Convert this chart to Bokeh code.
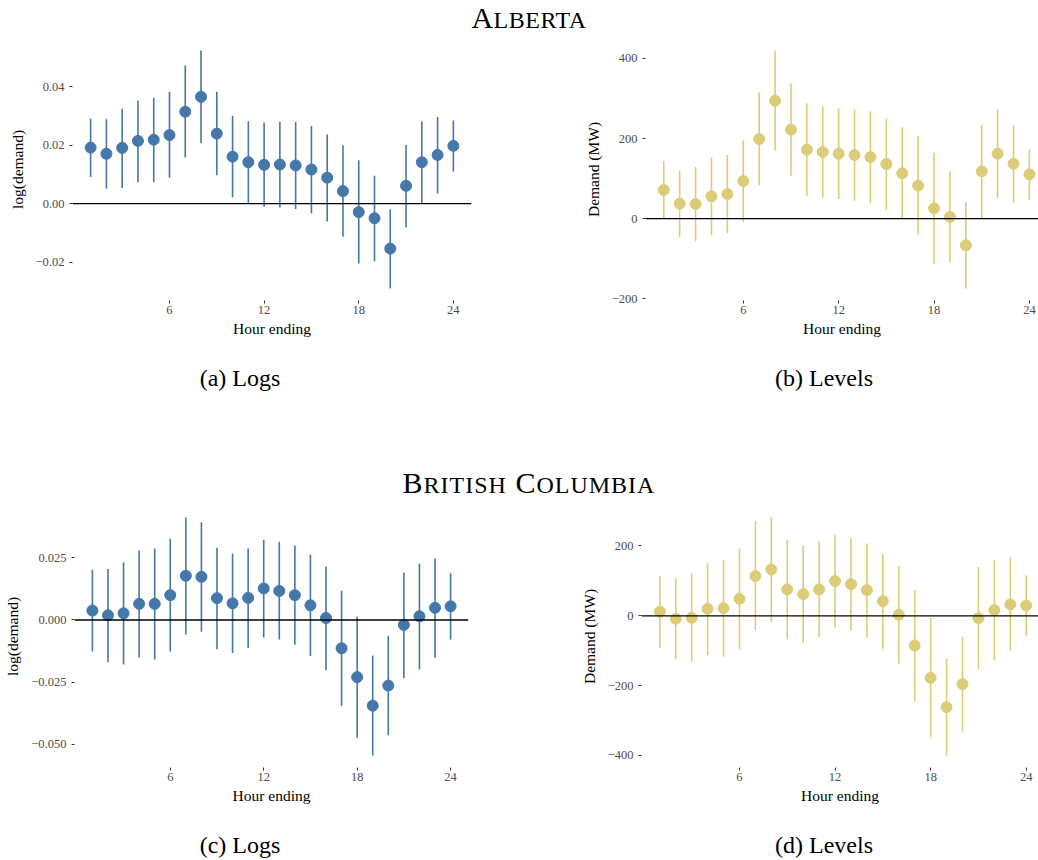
from bokeh.plotting import figure
from bokeh.models import Span, FixedTicker, CustomJSTickFormatter, Div, Range1d
from bokeh.layouts import column, row
from bokeh.embed import file_html
from bokeh.resources import INLINE

# ---------------- data ----------------
hours = list(range(1, 25))
x_ticks = [6, 12, 18, 24]

ab_log_est = [0.0192, 0.0171, 0.0191, 0.0215, 0.0219, 0.0235, 0.0315, 0.0366, 0.0240, 0.0161, 0.0142, 0.0133,
              0.0134, 0.0131, 0.0117, 0.0089, 0.0043, -0.0029, -0.0050, -0.0154, 0.0061, 0.0142, 0.0167, 0.0198]
ab_log_lo = [0.0091, 0.0051, 0.0054, 0.0073, 0.0073, 0.0089, 0.0158, 0.0207, 0.0097, 0.0022, 0.0000, -0.0011,
             -0.0013, -0.0018, -0.0033, -0.0061, -0.0113, -0.0205, -0.0197, -0.0291, -0.0082, 0.0000, 0.0035, 0.0110]
ab_log_hi = [0.0291, 0.0289, 0.0325, 0.0353, 0.0363, 0.0383, 0.0473, 0.0525, 0.0383, 0.0301, 0.0282, 0.0278,
             0.0281, 0.0280, 0.0266, 0.0237, 0.0200, 0.0149, 0.0096, -0.0019, 0.0201, 0.0282, 0.0297, 0.0285]

ab_lvl_est = [71.5, 37.4, 36.6, 55.7, 61.5, 94.0, 198.8, 294.4, 222.0, 172.1, 166.3, 162.2,
              158.8, 153.8, 136.4, 113.1, 82.3, 25.8, 4.2, -66.5, 118.1, 162.2, 137.2, 110.6]
ab_lvl_lo = [0.0, -44.9, -56.5, -41.6, -36.6, -7.5, 83.2, 169.6, 107.3, 57.4, 53.2, 49.1,
             44.9, 39.1, 22.5, 0.0, -39.9, -113.1, -109.8, -174.6, 1.7, 51.6, 39.9, 47.4]
ab_lvl_hi = [143.9, 119.8, 128.9, 152.2, 158.8, 195.4, 315.2, 420.0, 337.6, 287.7, 279.4, 275.3,
             271.9, 267.8, 250.3, 227.9, 205.4, 164.7, 118.1, 41.6, 233.7, 272.8, 233.7, 173.0]

bc_log_est = [0.0038, 0.0019, 0.0027, 0.0065, 0.0065, 0.0100, 0.0178, 0.0174, 0.0088, 0.0067, 0.0089, 0.0127,
              0.0117, 0.0100, 0.0059, 0.0008, -0.0114, -0.0230, -0.0345, -0.0264, -0.0020, 0.0015, 0.0049, 0.0055]
bc_log_lo = [-0.0127, -0.0170, -0.0179, -0.0151, -0.0159, -0.0127, -0.0058, -0.0047, -0.0118, -0.0133, -0.0113, -0.0071,
             -0.0079, -0.0100, -0.0145, -0.0202, -0.0346, -0.0474, -0.0546, -0.0464, -0.0234, -0.0199, -0.0153, -0.0079]
bc_log_hi = [0.0202, 0.0205, 0.0231, 0.0280, 0.0288, 0.0327, 0.0413, 0.0394, 0.0291, 0.0268, 0.0288, 0.0322,
             0.0315, 0.0300, 0.0264, 0.0215, 0.0118, 0.0013, -0.0143, -0.0063, 0.0191, 0.0226, 0.0248, 0.0188]

bc_lvl_est = [12.4, -8.6, -5.7, 20.1, 22.0, 48.7, 113.7, 132.8, 75.5, 62.1, 75.5, 99.4,
              90.8, 73.6, 42.0, 2.9, -85.0, -177.7, -261.8, -195.9, -6.7, 16.2, 32.5, 29.6]
bc_lvl_lo = [-92.7, -124.2, -130.9, -112.7, -116.6, -95.5, -43.0, -19.1, -65.9, -77.4, -62.1, -33.4,
             -42.0, -61.1, -96.5, -138.5, -244.6, -348.7, -400.3, -331.5, -152.9, -128.0, -100.3, -57.3]
bc_lvl_hi = [114.6, 107.0, 120.4, 152.9, 159.5, 193.0, 271.3, 281.8, 216.9, 200.6, 213.0, 232.2,
             223.6, 207.3, 176.7, 142.4, 73.6, -5.7, -123.2, -60.2, 139.5, 160.5, 167.2, 115.6]

ab_log_ticks = [-0.02, 0.0, 0.02, 0.04]
ab_lvl_ticks = [-200, 0, 200, 400]
bc_log_ticks = [-0.05, -0.025, 0.0, 0.025]
bc_lvl_ticks = [-400, -200, 0, 200]

province_titles = ["Alberta", "British Columbia"]
captions = ["(a) Logs", "(b) Levels", "(c) Logs", "(d) Levels"]
x_label = "Hour ending"
y_label_log = "log(demand)"
y_label_lvl = "Demand (MW)"

BLUE = "#4477AA"
SAND = "#DDCC77"
FONT = "Liberation Serif"


def panel(est, lo, hi, color, ylabel, yticks, decimals, left, fwidth, right, x_end):
    span = max(hi) - min(lo)
    y0 = min(lo) - 0.05 * span
    y1 = max(hi) + 0.05 * span
    p = figure(frame_width=fwidth, frame_height=262,
               min_border_left=left, min_border_right=right,
               min_border_top=0, min_border_bottom=45,
               x_range=Range1d(-0.15, x_end), y_range=Range1d(y0, y1),
               title=None, toolbar_location=None, output_backend="svg", margin=(0, 0, 0, 0))
    p.outline_line_color = None
    p.grid.visible = False
    p.background_fill_color = "white"
    p.border_fill_color = "white"
    p.add_layout(Span(location=0, dimension="width", line_color="black", line_width=1.3))
    p.segment(x0=hours, y0=lo, x1=hours, y1=hi, line_color=color, line_width=1.6)
    p.scatter(x=hours, y=est, size=11, fill_color=color, line_color=color)

    for ax in (p.xaxis[0], p.yaxis[0]):
        ax.axis_line_color = None
        ax.major_tick_line_color = "#333333"
        ax.major_tick_out = 3
        ax.major_tick_in = 0
        ax.minor_tick_line_color = None
        ax.major_label_text_font = FONT
        ax.major_label_text_font_size = "12.5px"
        ax.major_label_text_color = "#4D4D4D"
        ax.axis_label_text_font = FONT
        ax.axis_label_text_font_size = "15.5px"
        ax.axis_label_text_font_style = "normal"
        ax.axis_label_text_color = "black"
    p.xaxis.ticker = FixedTicker(ticks=x_ticks)
    p.xaxis.major_label_standoff = 2
    p.xaxis.axis_label = x_label
    p.xaxis.axis_label_standoff = 3
    p.yaxis.ticker = FixedTicker(ticks=yticks)
    p.yaxis.major_label_standoff = 5
    p.yaxis.axis_label = ylabel
    p.yaxis.axis_label_standoff = 7
    p.yaxis.formatter = CustomJSTickFormatter(
        args=dict(d=decimals),
        code="var s = Math.abs(tick).toFixed(d); return (tick < -1e-12 ? '\\u2212' : '') + s;")
    return p


def smallcaps(text):
    words = []
    for w in text.split(" "):
        words.append('<span style="font-size:30px">%s</span><span style="font-size:24px">%s</span>'
                     % (w[0].upper(), w[1:].upper()))
    return " ".join(words)


def title_div(text, height, top, spacing):
    html = ('<div style="position:relative;width:1038px;height:%dpx;font-family:\'%s\',serif;color:#000;'
            'font-size:30px;">'
            '<div style="position:absolute;left:10px;top:%dpx;width:1038px;text-align:center;line-height:1;'
            'white-space:nowrap;letter-spacing:%spx;">%s</div></div>') % (height, FONT, top, spacing, smallcaps(text))
    return Div(text=html, width=1038, height=height, margin=(0, 0, 0, 0))


def caption_div(left_text, right_text, height, top):
    html = ('<div style="position:relative;width:1038px;height:%dpx;font-family:\'%s\',serif;color:#000;'
            'font-size:24px;line-height:1;">'
            '<span style="position:absolute;left:240px;top:%dpx;transform:translateX(-50%%);white-space:nowrap;">%s</span>'
            '<span style="position:absolute;left:824px;top:%dpx;transform:translateX(-50%%);white-space:nowrap;">%s</span>'
            '</div>') % (height, FONT, top, left_text, top, right_text)
    return Div(text=html, width=1038, height=height, margin=(0, 0, 0, 0))


pa = panel(ab_log_est, ab_log_lo, ab_log_hi, BLUE, y_label_log, ab_log_ticks, 2, 72, 399, 49, 25.15)
pb = panel(ab_lvl_est, ab_lvl_lo, ab_lvl_hi, SAND, y_label_lvl, ab_lvl_ticks, 0, 125, 393, 0, 24.57)
pc = panel(bc_log_est, bc_log_lo, bc_log_hi, BLUE, y_label_log, bc_log_ticks, 3, 74, 394, 52, 25.15)
pd = panel(bc_lvl_est, bc_lvl_lo, bc_lvl_hi, SAND, y_label_lvl, bc_lvl_ticks, 0, 121, 397, 0, 24.77)

layout = column(
    title_div(province_titles[0], 38, 3, 0.5),
    row(pa, pb, spacing=0, margin=(0, 0, 0, 0)),
    caption_div(captions[0], captions[1], 118, 21),
    title_div(province_titles[1], 42, 5, 1),
    row(pc, pd, spacing=0, margin=(0, 0, 0, 0)),
    caption_div(captions[2], captions[3], 48, 21),
    spacing=0, margin=(0, 0, 0, 0),
)

open("out.html", "w").write(file_html(layout, INLINE))
